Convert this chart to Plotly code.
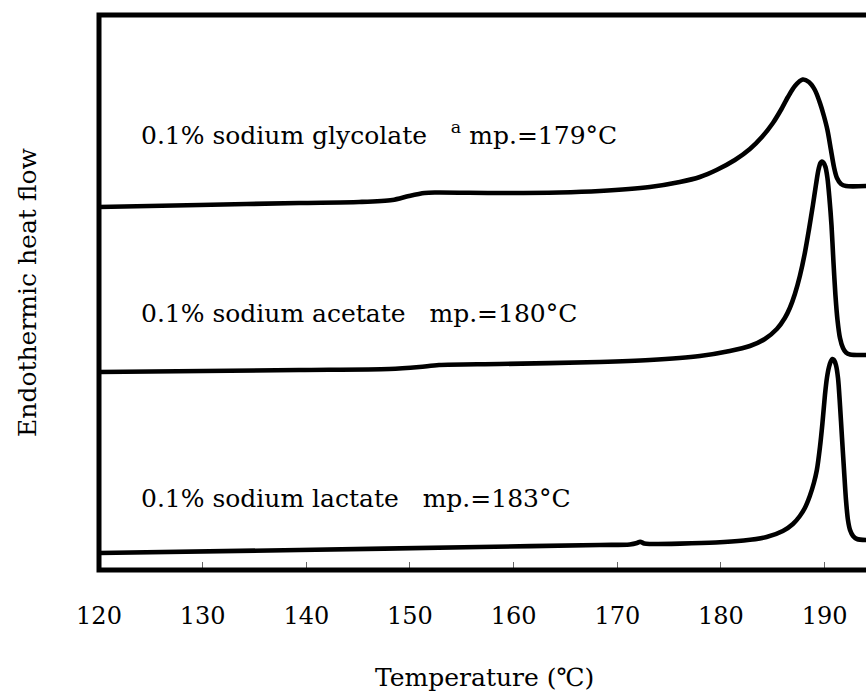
import plotly.graph_objects as go

# DSC traces: temperature (°C) and endothermic heat flow (arbitrary units, traces offset)
glycolate_T = [120.0, 129.7, 139.3, 145.1, 148.3, 149.9, 151.4, 152.5, 158.6, 164.4,
               168.31, 173.13, 176.03, 177.96, 179.57, 181.34, 182.79, 183.95, 185.01, 185.78,
               186.46, 187.13, 187.88, 188.48, 189.06, 189.55, 189.93, 190.27, 190.61, 190.90,
               191.19, 191.58, 192.06, 194.0]
glycolate_q = [3.63, 3.65, 3.67, 3.68, 3.70, 3.74, 3.77, 3.775, 3.77, 3.775,
               3.79, 3.83, 3.88, 3.93, 4.00, 4.10, 4.21, 4.33, 4.47, 4.60,
               4.73, 4.84, 4.905, 4.88, 4.80, 4.67, 4.54, 4.40, 4.20, 4.03,
               3.92, 3.86, 3.84, 3.84]

acetate_T = [120.0, 139.3, 148.0, 150.9, 152.8, 158.6, 168.3, 173.13, 177.96, 180.85,
             182.79, 184.23, 185.39, 186.16, 186.64, 187.13, 187.61, 188.09, 188.48, 188.87,
             189.16, 189.40, 189.60, 189.74, 189.88, 190.08, 190.27, 190.46, 190.66, 190.85,
             191.04, 191.24, 191.48, 191.77, 192.06, 192.45, 194.0]
acetate_q = [1.98, 2.00, 2.01, 2.03, 2.05, 2.06, 2.08, 2.10, 2.14, 2.19,
             2.24, 2.31, 2.41, 2.52, 2.62, 2.76, 2.94, 3.17, 3.40, 3.65,
             3.85, 4.00, 4.07, 4.085, 4.075, 4.03, 3.92, 3.72, 3.45, 3.08,
             2.75, 2.50, 2.32, 2.22, 2.175, 2.155, 2.15]

lactate_T = [120.0, 139.3, 156.7, 168.3, 171.2, 171.9, 172.2, 172.6, 173.1, 179.5,
             182.2, 184.40, 185.97, 186.94, 187.61, 188.09, 188.57, 188.96, 189.25, 189.55,
             189.79, 190.03, 190.22, 190.42, 190.61, 190.74, 190.90, 191.09, 191.29, 191.48,
             191.67, 191.87, 192.06, 192.25, 192.45, 192.74, 193.12, 194.0]
lactate_q = [0.17, 0.20, 0.23, 0.25, 0.255, 0.27, 0.283, 0.265, 0.26, 0.275,
             0.295, 0.33, 0.39, 0.46, 0.54, 0.62, 0.74, 0.87, 1.00, 1.23,
             1.47, 1.75, 1.92, 2.03, 2.09, 2.11, 2.10, 2.05, 1.92, 1.65,
             1.33, 1.00, 0.70, 0.50, 0.40, 0.34, 0.31, 0.30]

labels = ["0.1% sodium glycolate   <sup>a</sup> mp.=179°C",
          "0.1% sodium acetate   mp.=180°C",
          "0.1% sodium lactate   mp.=183°C"]
label_y = [4.37, 2.57, 0.72]

x_ticks = [120, 130, 140, 150, 160, 170, 180, 190]
x_range = [120, 193.99]
y_range = [0, 5.55]

FONT = "DejaVu Serif"

fig = go.Figure()
for T, q in [(glycolate_T, glycolate_q), (acetate_T, acetate_q), (lactate_T, lactate_q)]:
    fig.add_trace(go.Scatter(x=T, y=q, mode="lines",
                             line=dict(color="black", width=4.6, shape="spline", smoothing=0.8),
                             showlegend=False, hoverinfo="skip"))

for text, y in zip(labels, label_y):
    fig.add_annotation(x=123.9, y=y, xref="x", yref="y", text=text, showarrow=False,
                       xanchor="left", yanchor="middle",
                       font=dict(family=FONT, size=25, color="black"))

fig.add_annotation(x=0.503, y=-0.193, xref="paper", yref="paper",
                   text="Temperature (℃)", showarrow=False,
                   xanchor="center", yanchor="middle",
                   font=dict(family=FONT, size=25, color="black"))

# plot frame (right edge runs past the page)
fig.add_shape(type="rect", xref="paper", yref="paper", x0=0, x1=1.05, y0=0, y1=1,
              line=dict(color="black", width=5), layer="above")

fig.update_layout(
    width=866, height=691,
    margin=dict(l=99, r=0, t=15, b=121),
    paper_bgcolor="white", plot_bgcolor="white",
    xaxis=dict(range=x_range, tickvals=x_ticks, ticktext=[str(t) for t in x_ticks],
               ticks="inside", ticklen=8, tickwidth=1, tickcolor="#666",
               showgrid=False, zeroline=False, showline=False,
               ticklabelstandoff=29,
               tickfont=dict(family=FONT, size=24, color="black")),
    yaxis=dict(range=y_range, showticklabels=False, ticks="", showgrid=False,
               zeroline=False, showline=False,
               title=dict(text="Endothermic heat flow", standoff=54,
                          font=dict(family=FONT, size=25, color="black"))),
)

fig.write_html("out.html")
